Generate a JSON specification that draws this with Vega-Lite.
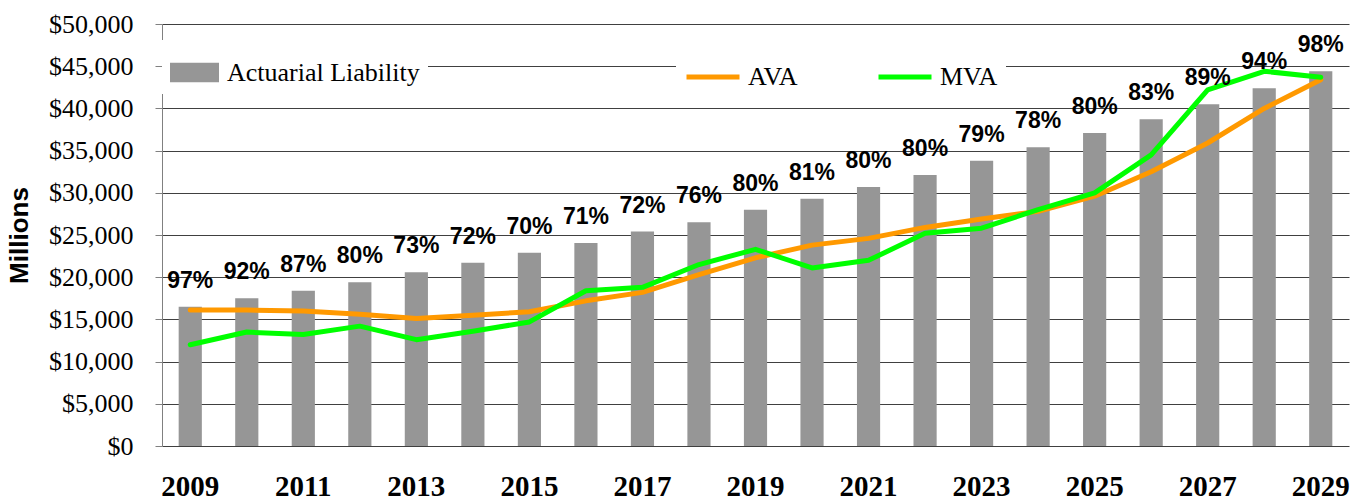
{
  "$schema": "https://vega.github.io/schema/vega-lite/v6.json",
  "width": 1187,
  "height": 422,
  "autosize": {"type": "none"},
  "padding": {"left": 162, "top": 24, "right": 14, "bottom": 56},
  "background": "white",
  "config": {"view": {"stroke": null}},
  "data": {
    "values": [
      {"year": 2009, "liability": 16500, "AVA": 16100, "MVA": 12000, "pct": "97%"},
      {"year": 2010, "liability": 17500, "AVA": 16100, "MVA": 13500, "pct": "92%"},
      {"year": 2011, "liability": 18400, "AVA": 16000, "MVA": 13200, "pct": "87%"},
      {"year": 2012, "liability": 19400, "AVA": 15600, "MVA": 14200, "pct": "80%"},
      {"year": 2013, "liability": 20600, "AVA": 15100, "MVA": 12600, "pct": "73%"},
      {"year": 2014, "liability": 21700, "AVA": 15500, "MVA": 13600, "pct": "72%"},
      {"year": 2015, "liability": 22900, "AVA": 15900, "MVA": 14700, "pct": "70%"},
      {"year": 2016, "liability": 24050, "AVA": 17200, "MVA": 18400, "pct": "71%"},
      {"year": 2017, "liability": 25400, "AVA": 18200, "MVA": 18800, "pct": "72%"},
      {"year": 2018, "liability": 26500, "AVA": 20300, "MVA": 21500, "pct": "76%"},
      {"year": 2019, "liability": 28000, "AVA": 22300, "MVA": 23300, "pct": "80%"},
      {"year": 2020, "liability": 29300, "AVA": 23800, "MVA": 21100, "pct": "81%"},
      {"year": 2021, "liability": 30700, "AVA": 24600, "MVA": 22000, "pct": "80%"},
      {"year": 2022, "liability": 32100, "AVA": 25900, "MVA": 25200, "pct": "80%"},
      {"year": 2023, "liability": 33800, "AVA": 26900, "MVA": 25800, "pct": "79%"},
      {"year": 2024, "liability": 35400, "AVA": 27800, "MVA": 28000, "pct": "78%"},
      {"year": 2025, "liability": 37100, "AVA": 29600, "MVA": 30000, "pct": "80%"},
      {"year": 2026, "liability": 38700, "AVA": 32500, "MVA": 34500, "pct": "83%"},
      {"year": 2027, "liability": 40500, "AVA": 35900, "MVA": 42200, "pct": "89%"},
      {"year": 2028, "liability": 42400, "AVA": 40000, "MVA": 44400, "pct": "94%"},
      {"year": 2029, "liability": 44400, "AVA": 43400, "MVA": 43700, "pct": "98%"}
    ]
  },
  "encoding": {
    "x": {
      "field": "year",
      "type": "ordinal",
      "scale": {"paddingInner": 0.59, "paddingOuter": 0.295},
      "axis": {
        "title": null,
        "values": [2009, 2011, 2013, 2015, 2017, 2019, 2021, 2023, 2025, 2027, 2029],
        "labelAngle": 0,
        "labelFont": "Liberation Serif",
        "labelFontSize": 29,
        "labelFontWeight": "bold",
        "labelColor": "black",
        "labelPadding": 26,
        "ticks": false,
        "domain": false,
        "grid": false
      }
    }
  },
  "layer": [
    {
      "mark": {"type": "bar", "color": "#969696"},
      "encoding": {
        "y": {
          "field": "liability",
          "type": "quantitative",
          "scale": {"domain": [0, 50000], "nice": false},
          "axis": {
            "title": "Millions",
            "titleFont": "Liberation Sans",
            "titleFontSize": 26,
            "titleFontWeight": "bold",
            "titleColor": "black",
            "titlePadding": 16,
            "values": [0, 5000, 10000, 15000, 20000, 25000, 30000, 35000, 40000, 45000, 50000],
            "format": "$,.0f",
            "labelFont": "Liberation Serif",
            "labelFontSize": 26,
            "labelColor": "black",
            "labelPadding": 22,
            "tickSize": 7,
            "tickColor": "#808080",
            "domainColor": "#808080",
            "grid": true,
            "gridColor": "#404040",
            "gridOpacity": 1
          }
        },
        "fill": {
          "datum": "Actuarial Liability",
          "scale": {"domain": ["Actuarial Liability"], "range": ["#969696"]},
          "legend": {
            "orient": "none",
            "legendX": 0,
            "legendY": 16,
            "title": null,
            "symbolType": "M-1,-0.4H1V0.4H-1Z",
            "symbolSize": 2401,
            "symbolStrokeWidth": 0,
            "labelFont": "Liberation Serif",
            "labelFontSize": 26,
            "labelColor": "black",
            "labelOffset": 8,
            "labelLimit": 400,
            "fillColor": "white",
            "padding": 8
          }
        }
      }
    },
    {
      "transform": [{"fold": ["AVA", "MVA"], "as": ["series", "value"]}],
      "mark": {"type": "line", "strokeWidth": 5, "strokeJoin": "round", "strokeCap": "round"},
      "encoding": {
        "y": {"field": "value", "type": "quantitative"},
        "stroke": {
          "field": "series",
          "type": "nominal",
          "scale": {"domain": ["AVA", "MVA"], "range": ["#FF9900", "#00FF00"]},
          "legend": {
            "orient": "none",
            "legendX": 514,
            "legendY": 16,
            "title": null,
            "direction": "horizontal",
            "columns": 2,
            "columnPadding": 70,
            "symbolType": "stroke",
            "symbolSize": 2809,
            "symbolStrokeWidth": 5,
            "labelFont": "Liberation Serif",
            "labelFontSize": 26,
            "labelColor": "black",
            "labelOffset": 6,
            "fillColor": "white",
            "padding": 8
          }
        }
      }
    },
    {
      "mark": {
        "type": "text",
        "dy": -26,
        "font": "Liberation Sans",
        "fontSize": 23,
        "fontWeight": "bold",
        "color": "black",
        "baseline": "middle",
        "align": "center"
      },
      "encoding": {
        "y": {"field": "liability", "type": "quantitative"},
        "text": {"field": "pct"}
      }
    }
  ]
}
